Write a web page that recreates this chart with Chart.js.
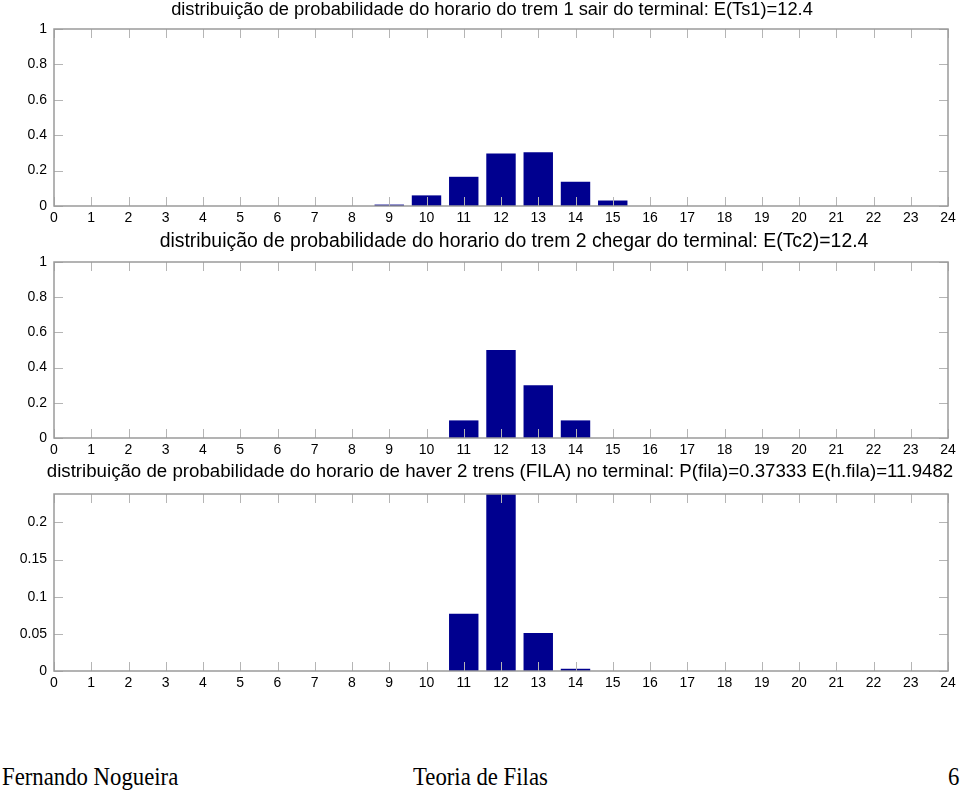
<!DOCTYPE html>
<html>
<head>
<meta charset="utf-8">
<script src="https://cdn.jsdelivr.net/npm/chart.js@4/dist/chart.umd.min.js"></script>
<style>
  html, body { margin: 0; padding: 0; background: #fff; }
  #page { position: relative; width: 960px; height: 791px; overflow: hidden; background: #fff; }
  canvas { position: absolute; left: 0; }
  .foot { position: absolute; font-family: "Liberation Serif", "Times New Roman", serif; font-size: 26px; line-height: 26px; color: #000; white-space: nowrap; transform-origin: left top; transform: scaleX(0.875); }
</style>
</head>
<body>
<div id="page">
  <canvas id="c1" width="960" height="230" style="top:0px"></canvas>
  <canvas id="c2" width="960" height="231" style="top:231px"></canvas>
  <canvas id="c3" width="960" height="234" style="top:461px"></canvas>
  <div class="foot" style="left:2px; top:764px;">Fernando Nogueira</div>
  <div class="foot" style="left:413px; top:764px;">Teoria de Filas</div>
  <div class="foot" style="left:948px; top:764px;">6</div>
</div>
<script>
// ---- data ----
const hours = [0,1,2,3,4,5,6,7,8,9,10,11,12,13,14,15,16,17,18,19,20,21,22,23,24];
const pTs1  = [0,0,0,0,0,0,0,0,0,0.008,0.06,0.165,0.297,0.304,0.137,0.031,0,0,0,0,0,0,0,0,0];
const pTc2  = [0,0,0,0,0,0,0,0,0,0,0,0.1,0.5,0.3,0.1,0,0,0,0,0,0,0,0,0,0];
const pFila = [0,0,0,0,0,0,0,0,0,0,0,0.077,0.2383,0.051,0.003,0,0,0,0,0,0,0,0,0,0];
const titles = [
  "distribuição de probabilidade do horario do trem 1 sair do terminal: E(Ts1)=12.4",
  "distribuição de probabilidade do horario do trem 2 chegar do terminal: E(Tc2)=12.4",
  "distribuição de probabilidade do horario de haver 2 trens (FILA) no terminal: P(fila)=0.37333 E(h.fila)=11.9482"
];
const yTicksProb = [0,0.2,0.4,0.6,0.8,1];
const yTicksFila = [0,0.05,0.1,0.15,0.2];
const yMaxFila = 0.2383;

// ---- style ----
const FONT = "'Liberation Sans', Arial, sans-serif";
const BAR = '#00008F';

const matlabAxes = {
  id: 'matlabAxes',
  afterDatasetsDraw(chart) {
    const {ctx, chartArea: a, scales: {x, y}} = chart;
    ctx.save();
    ctx.lineWidth = 1;
    ctx.strokeStyle = '#b5b5b5';
    ctx.beginPath();
    x.ticks.forEach(t => {
      const px = Math.round(x.getPixelForValue(t.value)) + 0.5;
      ctx.moveTo(px, a.bottom); ctx.lineTo(px, a.bottom - 9);
      ctx.moveTo(px, a.top); ctx.lineTo(px, a.top + 9);
    });
    y.ticks.forEach(t => {
      const py = Math.round(y.getPixelForValue(t.value)) + 0.5;
      ctx.moveTo(a.left, py); ctx.lineTo(a.left + 9, py);
      ctx.moveTo(a.right, py); ctx.lineTo(a.right - 9, py);
    });
    ctx.stroke();
    ctx.strokeStyle = '#9a9a9a';
    ctx.lineWidth = 1.5;
    ctx.strokeRect(Math.round(a.left), Math.round(a.top), Math.round(a.right - a.left), Math.round(a.bottom - a.top));
    // title, centred just above the axes box
    const o = chart.options.plugins.matlabAxes;
    ctx.fillStyle = '#000';
    ctx.font = o.titleSize + 'px ' + FONT;
    ctx.textAlign = 'center';
    ctx.textBaseline = 'middle';
    ctx.fillText(o.title, (a.left + a.right) / 2 + o.titleShift, o.titleY);
    ctx.restore();
  }
};

function makeChart(id, values, title, yTicks, yMax, top, titleSize, titleShift, titleY) {
  const pts = hours.map((h, i) => ({x: h, y: values[i]}));
  return new Chart(document.getElementById(id), {
    type: 'bar',
    data: { datasets: [{ data: pts, backgroundColor: BAR, borderWidth: 0,
      barPercentage: 0.79, categoryPercentage: 1 }] },
    options: {
      responsive: false,
      animation: false,
      layout: { padding: { left: 0, right: 12, top: top, bottom: 0 } },
      plugins: {
        legend: { display: false },
        tooltip: { enabled: false },
        title: { display: false },
        matlabAxes: { title, titleSize, titleShift, titleY }
      },
      scales: {
        x: {
          type: 'linear', min: 0, max: 24, offset: false,
          grid: { display: false, drawTicks: false }, border: { display: false },
          afterBuildTicks: s => { s.ticks = hours.map(v => ({value: v})); },
          afterFit: s => { s.height = 24; },
          ticks: { color: '#000', font: { family: FONT, size: 14 }, padding: 4,
            maxRotation: 0, autoSkip: false, callback: v => String(v) }
        },
        y: {
          min: 0, max: yMax,
          grid: { display: false, drawTicks: false }, border: { display: false },
          afterBuildTicks: s => { s.ticks = yTicks.map(v => ({value: v})); },
          afterFit: s => { s.width = 54; },
          ticks: { color: '#000', font: { family: FONT, size: 14 }, padding: 7,
            callback: v => String(+Number(v).toFixed(4)) }
        }
      }
    },
    plugins: [matlabAxes]
  });
}

makeChart('c1', pTs1, titles[0], yTicksProb, 1, 29, 18.3, -9, 10);
makeChart('c2', pTc2, titles[1], yTicksProb, 1, 31, 19.4, 13, 11);
makeChart('c3', pFila, titles[2], yTicksFila, yMaxFila, 33, 18.7, -1, 11);
</script>
</body>
</html>
